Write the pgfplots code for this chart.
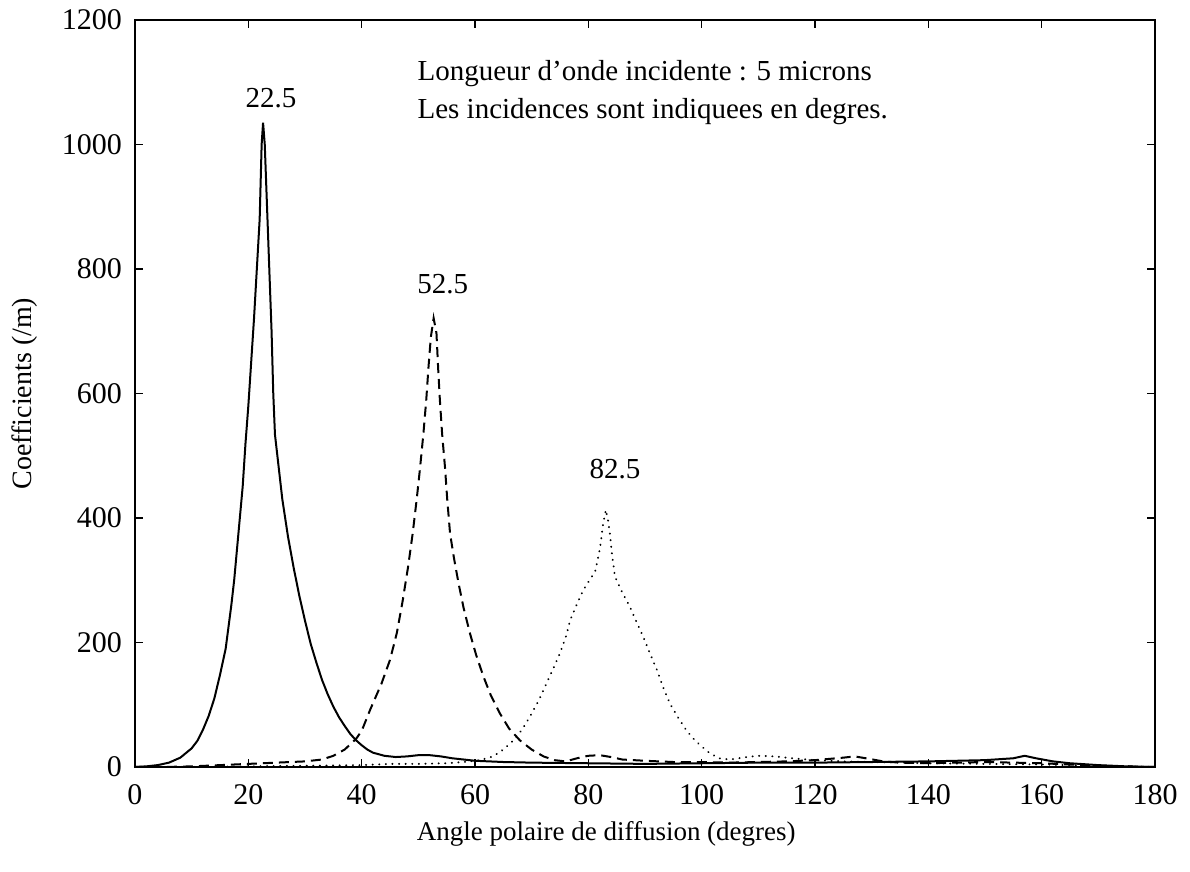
\documentclass[border=0pt]{standalone}
\usepackage{pgfplots}
\pgfplotsset{compat=1.18}
\usepackage{fontspec}
\setmainfont{Liberation Serif}

% incidence 22.5 deg
\pgfplotstableread{
x y
0 0
2 1
4 3
6 7
8 15
10 30
11 42
12 60
13 82
14 110
15 148
16 190
17 260
17.5 300
18 350
18.5 400
19 450
19.5 520
20 580
20.5 650
21 720
21.5 800
22 880
22.35 1000
22.6 1035
22.9 1000
23.3 900
23.7 800
24.1 700
24.4 600
24.7 534
25 510
25.5 470
26 430
26.5 400
27 370
28 320
29 275
30 235
31 198
32 168
33 140
34 117
35 97
36 80
37 66
38 53
39 43
40 35
41 28
42 23
44 18
46 16
48 17
50 19
52 19
54 17
56 14
58 12
60 10
65 8
70 7
80 6
90 5
100 6
110 7
120 7
130 8
140 9
145 10
150 11
155 14
157 18
159 14
162 9
165 6
170 3
175 1
180 0
}\inca
% incidence 52.5 deg
\pgfplotstableread{
x y
0 0
5 0
10 1
15 3
20 5
25 7
30 9
33 12
35 18
37 28
39 45
40 58
41.5 92
43.5 134
45 172
46.2 215
47.2 265
48.2 322
49 375
49.7 429
50.3 480
50.9 536
51.4 590
51.8 643
52.2 690
52.7 721
53.2 697
53.5 640
53.8 590
54.2 535
54.7 482
55.1 430
55.6 375
56.3 335
57.1 295
58 255
59.1 215
60.2 180
61.5 145
62.8 115
64.4 86
66 62
67.9 43
70 28
72.1 17
74 11
76 9
78 14
80 18
82 19
84 16
86 12
90 10
95 8
100 8
105 7
110 8
115 9
120 11
125 15
127 17
129 14
132 9
135 7
140 6
145 7
150 8
155 7
160 6
165 4
170 2
175 1
180 0
}\incb
% incidence 82.5 deg
\pgfplotstableread{
x y
0 0
10 0
20 1
30 2
40 3
45 5
50 5
55 6
58 8
60.9 11
63.2 17
65 28
66.8 43
68.3 60
69.7 81
71.2 106
72.6 134
73.8 158
75 183
76 208
76.8 236
78 262
79.1 284
80.2 300
81.2 314
81.7 335
82.1 354
82.6 390
83.1 413
83.5 395
83.8 375
84.2 340
84.7 306
86 280
87.3 258
88.5 233
89.7 209
90.9 182
92.1 156
93.2 128
94.4 102
95.8 80
97.3 59
98.4 47
99.4 38
101 25
103 14
105 12
108 16
110 18
113 17
116 14
120 11
125 9
130 8
135 7
140 6
150 5
160 4
170 2
180 0
}\incc

\begin{document}
\begin{tikzpicture}
\begin{axis}[
  name=main,
  scale only axis,
  width=510pt, height=373.5pt,
  xmin=0, xmax=180, ymin=0, ymax=1200,
  xtick={0,20,...,180}, ytick={0,200,...,1200},
  tick align=inside,
  major tick length=4pt,
  tick style={black, line width=0.8pt},
  axis line style={line width=1pt},
  tick label style={font=\fontsize{15}{17}\selectfont},
  yticklabel style={xshift=-3pt},
  xticklabel style={yshift=-5pt},
  /pgf/number format/assume math mode=true,
  /pgf/number format/1000 sep={},
  xlabel={Angle polaire de diffusion (degres)},
  ylabel={Coefficients (/m)},
  xlabel style={font=\fontsize{13.5}{15}\selectfont, at={(axis description cs:0.462,-0.09)}, anchor=center},
  ylabel style={font=\fontsize{14}{16}\selectfont, at={(axis description cs:-0.108,0.5)}, anchor=center},
  clip=false,
]
\addplot[black, line width=1pt] table {\inca};
\addplot[black, line width=1pt, dash pattern=on 5pt off 3pt] table {\incb};
\addplot[black, line width=1pt, line cap=round, dash pattern=on 0.1pt off 3.2pt] table {\incc};

\node[font=\fontsize{14.5}{17}\selectfont, anchor=base, inner sep=0pt] at (axis cs:24,1059) {22.5};
\node[font=\fontsize{14.5}{17}\selectfont, anchor=base, inner sep=0pt] at (axis cs:54.3,761) {52.5};
\node[font=\fontsize{14.5}{17}\selectfont, anchor=base, inner sep=0pt] at (axis cs:84.7,464) {82.5};
\node[font=\fontsize{14.5}{17}\selectfont, anchor=base west, inner sep=0pt] at (axis cs:49.8,1102) {Longueur d'onde incidente : 5 microns};
\node[font=\fontsize{14.5}{17}\selectfont, anchor=base west, inner sep=0pt] at (axis cs:49.8,1041) {Les incidences sont indiquees en degres.};
\end{axis}
\pgfresetboundingbox
\path[use as bounding box] ([xshift=-67.5pt,yshift=-52.5pt]main.south west) rectangle ([xshift=17.5pt,yshift=10pt]main.north east);
\end{tikzpicture}
\end{document}
